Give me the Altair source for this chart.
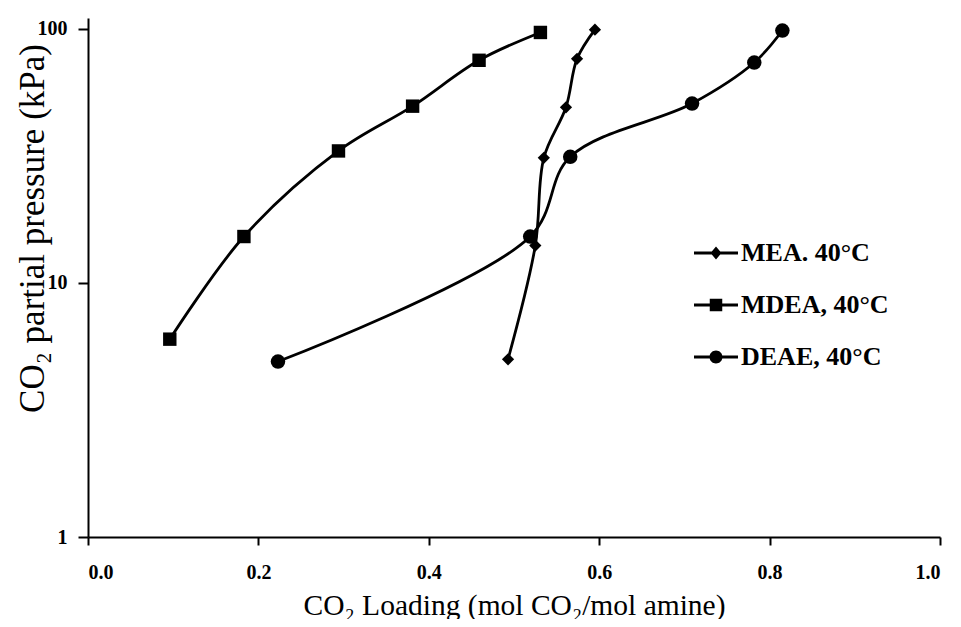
import altair as alt
import pandas as pd

series_names = ["MEA. 40°C", "MDEA, 40°C", "DEAE, 40°C"]

mea_x = [0.493, 0.525, 0.535, 0.561, 0.574, 0.595]
mea_y = [5.0, 14.0, 31.0, 49.0, 76.0, 99.0]

mdea_x = [0.096, 0.183, 0.294, 0.381, 0.459, 0.531]
mdea_y = [6.0, 15.2, 33.0, 49.5, 75.0, 96.5]

deae_x = [0.223, 0.519, 0.566, 0.709, 0.782, 0.815]
deae_y = [4.9, 15.2, 31.3, 50.7, 73.5, 98.2]

x_ticks = [0.0, 0.2, 0.4, 0.6, 0.8, 1.0]
y_ticks = [1, 10, 100]

rows = []
for name, xs, ys in zip(series_names, [mea_x, mdea_x, deae_x], [mea_y, mdea_y, deae_y]):
    for i, (xv, yv) in enumerate(zip(xs, ys)):
        rows.append({"series": name, "loading": xv, "pressure": yv, "order": i})
df = pd.DataFrame(rows)

FONT = "Liberation Serif"

x_enc = alt.X(
    "loading:Q",
    scale=alt.Scale(domain=[0, 1], nice=False, zero=False),
    axis=alt.Axis(
        values=x_ticks, format=".1f", title="CO₂ Loading (mol CO₂/mol amine)",
        labelFont=FONT, labelFontWeight="bold", labelFontSize=20, labelPadding=17,
        tickSize=8, titleFont=FONT, titleFontWeight="normal", titleFontSize=29.5,
        titleY=68, titleBaseline="middle",
    ),
)
y_enc = alt.Y(
    "pressure:Q",
    scale=alt.Scale(type="log", domain=[1, 110], nice=False),
    axis=alt.Axis(
        values=y_ticks, format="d", title="CO₂ partial pressure (kPa)",
        labelFont=FONT, labelFontWeight="bold", labelFontSize=20, labelPadding=11,
        tickSize=10, titleFont=FONT, titleFontWeight="normal", titleFontSize=35,
        titleX=-56, titleY=210, titleAlign="center", titleBaseline="middle", titleAngle=-90,
    ),
)

lines = alt.Chart(df).mark_line(color="black", strokeWidth=2.8, interpolate="catmull-rom").encode(
    x=x_enc, y=y_enc, detail="series:N", order="order:Q"
)

points = alt.Chart(df).mark_point(filled=True, color="black", opacity=1).encode(
    x=x_enc, y=y_enc,
    shape=alt.Shape("series:N", scale=alt.Scale(domain=series_names, range=["diamond", "square", "circle"]), legend=None),
    size=alt.Size("series:O", scale=alt.Scale(domain=series_names, range=[150, 210, 160]), legend=None),
)

line_part = "M-4.4,-0.3H4.4V0.3H-4.4Z"
legend_shapes = [
    line_part + "M0,-1.3L1.1,0L0,1.3L-1.1,0Z",
    line_part + "M-1.25,-1.25H1.25V1.25H-1.25Z",
    line_part + "M-1.3,0A1.3,1.3,0,1,1,1.3,0A1.3,1.3,0,1,1,-1.3,0Z",
]

legend_layer = alt.Chart(df).mark_point(
    filled=True, color="black", opacity=1
).encode(
    x=x_enc, y=y_enc,
    shape=alt.Shape(
        "series:N",
        scale=alt.Scale(domain=series_names, range=legend_shapes),
        legend=alt.Legend(
            title=None, orient="none", legendX=615, legendY=222, padding=0,
            labelFont=FONT, labelFontWeight="bold", labelFontSize=26, labelColor="black",
            labelOffset=12, labelLimit=400, symbolSize=100,
            symbolFillColor="black", rowPadding=26,
        ),
    ),
).transform_filter("false")

chart = (
    alt.layer(lines, points, legend_layer)
    .resolve_scale(shape="independent", size="independent")
    .properties(
        width=852, height=519,
        autosize=alt.AutoSizeParams(type="none"),
        padding={"left": 80, "top": 10, "right": 13, "bottom": 82},
        background="white",
    )
    .configure_view(stroke=None)
    .configure_axis(
        grid=False, domainColor="black", domainWidth=2, tickColor="black", tickWidth=2,
        labelColor="black", titleColor="black",
    )
)

chart.save("out.html", embed_options={"renderer": "svg", "actions": False})
